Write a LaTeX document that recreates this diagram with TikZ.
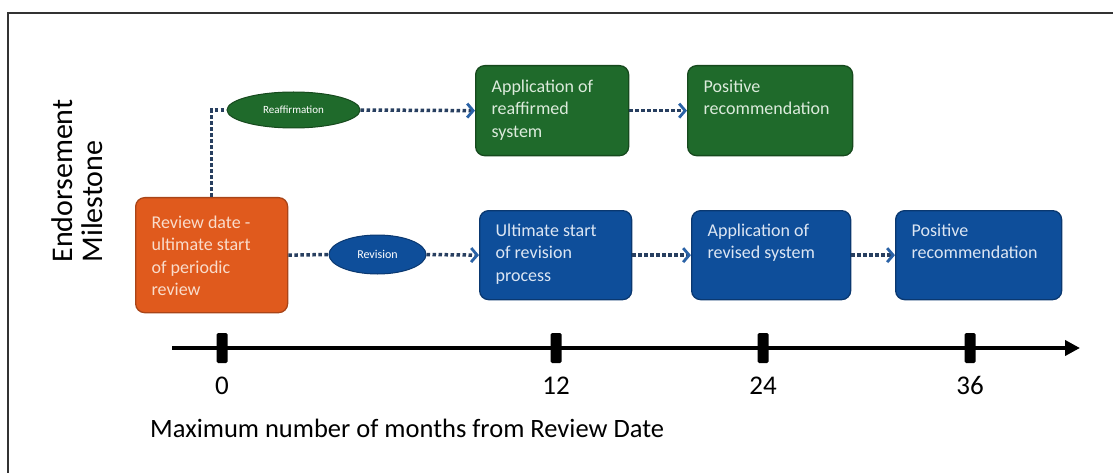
\documentclass[tikz,border=0pt]{standalone}
\usepackage{fontspec}
\setmainfont{Carlito}
\usetikzlibrary{arrows.meta,shapes.geometric}
\definecolor{orfill}{HTML}{E05A1D}
\definecolor{ordraw}{HTML}{A94518}
\definecolor{ortext}{HTML}{F9DCCB}
\definecolor{grfill}{HTML}{1F6A2B}
\definecolor{grdraw}{HTML}{16491D}
\definecolor{grtext}{HTML}{DCEBDC}
\definecolor{blfill}{HTML}{0E4E9A}
\definecolor{bldraw}{HTML}{0A3870}
\definecolor{bltext}{HTML}{DCE6F3}
\definecolor{dotc}{HTML}{283F60}
\definecolor{chev}{HTML}{2A62A6}
\definecolor{framec}{HTML}{333333}
\newcommand{\boxtxt}[4]{\parbox[c][#1][t]{#2}{\raggedright\vspace*{#3}#4}}
\tikzset{
  stage/.style={draw, rounded corners=9pt, line width=1.3pt, inner xsep=16pt, inner ysep=0pt,
    anchor=north west, align=left, font=\fontsize{18}{22.5}\selectfont},
  orbox/.style={stage, fill=orfill, draw=ordraw, text=ortext},
  grbox/.style={stage, fill=grfill, draw=grdraw, text=grtext},
  blbox/.style={stage, fill=blfill, draw=bldraw, text=bltext},
  oval/.style={ellipse, draw, line width=1pt, inner sep=0pt, text=white},
  dotline/.style={draw=dotc, line width=3.5pt, dash pattern=on 3.5pt off 2.5pt},
  chevarr/.style={-{Straight Barb[length=6pt, width=14pt, line width=2.8pt, color=chev]}},
  tick/.style={fill=black, rounded corners=1.5pt, minimum width=11pt, minimum height=30pt, inner sep=0pt},
  ticklab/.style={anchor=base, font=\fontsize{27}{30}\selectfont},
}
\begin{document}
\begin{tikzpicture}[x=1pt, y=-1pt]
\useasboundingbox (0,0) rectangle (1113,473);
% frame
\draw[framec, line width=2pt] (8,473) -- (8,13) -- (1113,13);

% vertical label
\node[rotate=90, align=left, font=\fontsize{30}{30}\selectfont] (ylab) at (77,181) {Endorsement\\Milestone};

% boxes
\node[orbox] (orange) at (135,197) {\boxtxt{115pt}{120pt}{18pt}{Review date -\\ultimate start\\of periodic\\review}};
\node[grbox] (green1) at (475,65) {\boxtxt{90pt}{121pt}{14pt}{Application of\\reaffirmed\\system}};
\node[grbox] (green2) at (687,65) {\boxtxt{90pt}{133pt}{14pt}{Positive\\recommendation}};
\node[blbox] (blue1) at (479,210) {\boxtxt{89pt}{120pt}{13pt}{Ultimate start\\of revision\\process}};
\node[blbox] (blue2) at (691,210) {\boxtxt{89pt}{127pt}{13pt}{Application of\\revised system}};
\node[blbox] (blue3) at (895,210) {\boxtxt{89pt}{134pt}{13pt}{Positive\\recommendation}};

% ellipses
\node[oval, fill=grfill, draw=grdraw, minimum width=133pt, minimum height=36pt, font=\fontsize{11}{13}\selectfont] (reaf) at (293.5,110) {Reaffirmation};
\node[oval, fill=blfill, draw=bldraw, minimum width=97pt, minimum height=39pt, font=\fontsize{12}{14}\selectfont] (rev) at (377.5,254.5) {Revision};

% connectors
\draw[dotline] (orange.north) -- (orange.north |- reaf.west) -- (reaf.west);
\draw[dotline, chevarr] (reaf.east) -- (green1.west);
\draw[dotline, chevarr] (green1.east) -- (green2.west);
\draw[dotline] (orange.east) -- (rev.west);
\draw[dotline, chevarr] (rev.east) -- (blue1.west);
\draw[dotline, chevarr] (blue1.east) -- (blue2.west);
\draw[dotline, chevarr] (blue2.east) -- (blue3.west);

% axis
\coordinate (axs) at (172,348);
\coordinate (axe) at (1080,348);
\draw[line width=4pt, -{Triangle[length=15pt, width=15pt]}] (axs) -- (axe);
\node[tick] (t0) at (222,348) {};
\node[tick] (t12) at (556,348) {};
\node[tick] (t24) at (763,348) {};
\node[tick] (t36) at (970,348) {};
\node[ticklab] (l0) at (222,394) {0};
\node[ticklab] (l12) at (556,394) {12};
\node[ticklab] (l24) at (763,394) {24};
\node[ticklab] (l36) at (970,394) {36};
\node[anchor=base west, font=\fontsize{26.5}{30}\selectfont, inner sep=0pt] (cap) at (150,437) {Maximum number of months from Review Date};
\end{tikzpicture}
\end{document}
